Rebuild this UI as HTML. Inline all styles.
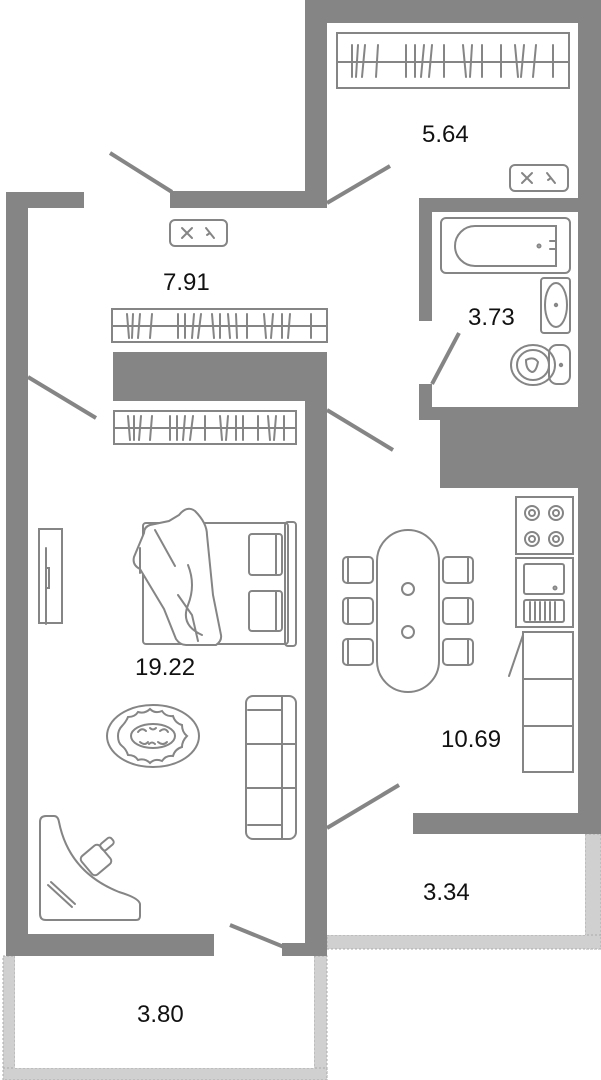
<!DOCTYPE html>
<html><head><meta charset="utf-8"><style>
html,body{margin:0;padding:0;background:#fff}
svg{display:block}
text{font-family:"Liberation Sans",sans-serif;font-size:24px;fill:#111}
</style></head><body>
<svg width="601" height="1080" viewBox="0 0 601 1080" xmlns="http://www.w3.org/2000/svg">
<!-- balconies -->
<g fill="#d0d0d0" stroke="#aaa" stroke-width="1" stroke-dasharray="2,2">
<rect x="3" y="956" width="12" height="124"/>
<rect x="314" y="956" width="13" height="124"/>
<rect x="3" y="1068" width="324" height="12"/>
<rect x="585" y="834" width="16" height="115"/>
<rect x="327" y="935" width="274" height="14"/>
</g>
<rect x="15" y="956" width="299" height="112" fill="#fff"/>
<rect x="327" y="834" width="258" height="101" fill="#fff"/>
<!-- walls -->
<g fill="#858585">
<rect x="305" y="0" width="296" height="23"/>
<rect x="305" y="0" width="22" height="208"/>
<rect x="578" y="0" width="23" height="834"/>
<rect x="170" y="191" width="157" height="17"/>
<rect x="6" y="192" width="78" height="16"/>
<rect x="6" y="192" width="22" height="764"/>
<rect x="419" y="198" width="182" height="14"/>
<rect x="419" y="198" width="13" height="123"/>
<rect x="419" y="384" width="13" height="36"/>
<rect x="419" y="407" width="182" height="13"/>
<rect x="440" y="407" width="161" height="81"/>
<rect x="413" y="813" width="188" height="21"/>
<rect x="113" y="352" width="214" height="49"/>
<rect x="305" y="352" width="22" height="604"/>
<rect x="6" y="934" width="208" height="22"/>
<rect x="282" y="943" width="45" height="13"/>
</g>
<!-- doors -->
<g stroke="#858585" stroke-width="4" fill="none">
<line x1="110" y1="153" x2="172" y2="192"/>
<line x1="327" y1="203" x2="390" y2="166"/>
<line x1="432" y1="384" x2="459" y2="333"/>
<line x1="28" y1="377" x2="96" y2="418"/>
<line x1="327" y1="410" x2="393" y2="450"/>
<line x1="327" y1="828" x2="399" y2="785"/>
<line x1="230" y1="925" x2="284" y2="947"/>
</g>
<!-- furniture -->
<g stroke="#858585" stroke-width="2" fill="none" stroke-linecap="round">
<!-- wardrobes -->
<rect x="337" y="33" width="232" height="55"/>
<line x1="337" y1="62" x2="569" y2="62"/>
<path d="M352 45v32M358 45l-2 32M365 45l-3 32M378 45l-2 32M406 45v32M415 45v32M424 45l-3 32M432 45l-3 32M444 45v32M463 45l3 32M472 45l-2 32M482 45v32M501 45v32M515 45l3 32M524 45l-3 32M536 45l-3 32M553 45v32"/>
<rect x="112" y="309" width="215" height="33"/>
<line x1="112" y1="326" x2="327" y2="326"/>
<path d="M127 314l2 24M133 314l-1 24M140 314l-2 24M152 314l-2 24M178 314v24M185 314v24M194 314l-2 24M201 314l-3 24M212 314l2 24M220 314v24M228 314l2 24M236 314l1 24M247 314v24M264 314l2 24M273 314l-2 24M282 314v24M290 314l-2 24M311 314v24"/>
<rect x="114" y="411" width="182" height="33"/>
<line x1="114" y1="428" x2="296" y2="428"/>
<path d="M128 416l2 24M134 416v24M141 416l-2 24M152 416l-2 24M170 416v24M177 416v24M185 416l-2 24M193 416l-3 24M205 416v24M220 416l2 24M228 416l-2 24M236 416v24M243 416v24M258 416v24M268 416l2 24M276 416l-2 24M284 416v24"/>
<!-- vents -->
<rect x="170" y="220" width="57" height="26" rx="5"/>
<path d="M182 228l10 10M192 228l-10 10M206 228l4 5 4 5M210 233l-3 2"/>
<rect x="510" y="165" width="58" height="26" rx="5"/>
<path d="M522 173l10 10M532 173l-10 10M547 173l4 5 4 5M551 178l-3 2"/>
<!-- bath -->
<rect x="441" y="218" width="129" height="55" rx="5"/>
<path d="M475 226h81v40h-81a20 20 0 0 1 0-40z"/>
<circle cx="539" cy="246" r="1.5"/>
<path d="M550 241h6M550 249h6"/>
<rect x="541" y="278" width="29" height="55" rx="3"/>
<ellipse cx="556" cy="305" rx="11" ry="22"/>
<circle cx="556" cy="305" r="1.2"/>
<rect x="549" y="345" width="21" height="39" rx="8"/>
<ellipse cx="533" cy="365" rx="22" ry="20"/>
<ellipse cx="533" cy="365" rx="16" ry="15"/>
<path d="M526 360q8-4 12 2q-2 10-6 10q-6-2-6-12z"/>
<circle cx="561" cy="365" r="1.2"/>
<!-- tv -->
<rect x="39" y="529" width="23" height="94"/>
<path d="M46 548v76M46 568h3v20h-3"/>
<!-- bed -->
<rect x="143" y="523" width="145" height="121" rx="3"/>
<rect x="285" y="522" width="11" height="124" rx="3"/>
<rect x="249" y="534" width="33" height="41" rx="3"/>
<line x1="276" y1="535" x2="276" y2="574"/>
<rect x="249" y="591" width="33" height="40" rx="3"/>
<line x1="276" y1="592" x2="276" y2="630"/>
<path d="M150 525q-6 2-6 8l-10 24q-2 8 6 12l24 40 12 30q4 6 10 6h30q6-4 5-10l-8-40-6-60q0-12-12-24q-8-6-16 4l-10 6z" fill="#fff"/>
<path d="M155 530l20 36M188 565q8 20 0 40t14 30M178 595l14 20 6 26M140 548v25"/>
<!-- rug -->
<ellipse cx="153" cy="736" rx="46" ry="31"/>
<path d="M118 736q0-6 4-10t6-9q7 0 10-5q7 2 12-3q5 5 12 2q4 6 11 5q2 7 9 9q0 7 5 11q-5 5-5 11q-7 2-9 9q-7-1-11 5q-7-3-12 2q-5-5-12-3q-3-5-10-5q-2-6-6-9t-4-10z"/>
<ellipse cx="153" cy="736" rx="22" ry="12"/>
<path d="M138 732q4-5 8-1M160 731q5-4 8 1M140 742q5 4 8 0M158 742q5 4 9 0M150 728q3 3 6 0M149 744q3-3 6 0"/>
<!-- sofa -->
<rect x="246" y="696" width="50" height="143" rx="7"/>
<line x1="282" y1="697" x2="282" y2="838"/>
<path d="M246 744h50M246 788h50M248 710h34M248 825h34"/>
<!-- desk -->
<path d="M40 822q0-6 6-6h8q4 0 5 6q10 50 60 70q20 6 21 12v12q0 4-4 4h-90q-6 0-6-6z"/>
<rect x="84" y="848" width="24" height="24" rx="4" transform="rotate(-40 96 860)"/>
<rect x="100" y="840" width="14" height="8" rx="3" transform="rotate(-40 107 844)"/>
<path d="M48 885l24 22M51 882l24 22"/>
<!-- table -->
<rect x="377" y="530" width="62" height="162" rx="31"/>
<circle cx="408" cy="589" r="6"/><circle cx="408" cy="632" r="6"/>
<g>
<rect x="343" y="557" width="30" height="26" rx="4"/><line x1="348" y1="557" x2="348" y2="583"/>
<rect x="343" y="598" width="30" height="26" rx="4"/><line x1="348" y1="598" x2="348" y2="624"/>
<rect x="343" y="639" width="30" height="26" rx="4"/><line x1="348" y1="639" x2="348" y2="665"/>
<rect x="443" y="557" width="30" height="26" rx="4"/><line x1="468" y1="557" x2="468" y2="583"/>
<rect x="443" y="598" width="30" height="26" rx="4"/><line x1="468" y1="598" x2="468" y2="624"/>
<rect x="443" y="639" width="30" height="26" rx="4"/><line x1="468" y1="639" x2="468" y2="665"/>
</g>
<!-- stove -->
<rect x="516" y="497" width="57" height="57"/>
<circle cx="532" cy="513" r="7"/><circle cx="532" cy="513" r="3"/>
<circle cx="556" cy="513" r="7"/><circle cx="556" cy="513" r="3"/>
<circle cx="532" cy="539" r="7"/><circle cx="532" cy="539" r="3"/>
<circle cx="556" cy="539" r="7"/><circle cx="556" cy="539" r="3"/>
<!-- sink -->
<rect x="516" y="558" width="57" height="69"/>
<rect x="524" y="564" width="40" height="30" rx="2"/>
<rect x="524" y="600" width="40" height="22" rx="2"/>
<path d="M530 602v18M535 602v18M540 602v18M545 602v18M550 602v18M555 602v18"/>
<circle cx="555" cy="588" r="1.5"/>
<!-- cabinets -->
<rect x="523" y="632" width="50" height="140"/>
<path d="M523 679h50M523 726h50M523 635l-14 41"/>
</g>
<!-- labels -->
<text x="422" y="142">5.64</text>
<text x="163" y="290">7.91</text>
<text x="468" y="325">3.73</text>
<text x="135" y="675">19.22</text>
<text x="441" y="747">10.69</text>
<text x="423" y="900">3.34</text>
<text x="137" y="1022">3.80</text>
</svg>
</body></html>
